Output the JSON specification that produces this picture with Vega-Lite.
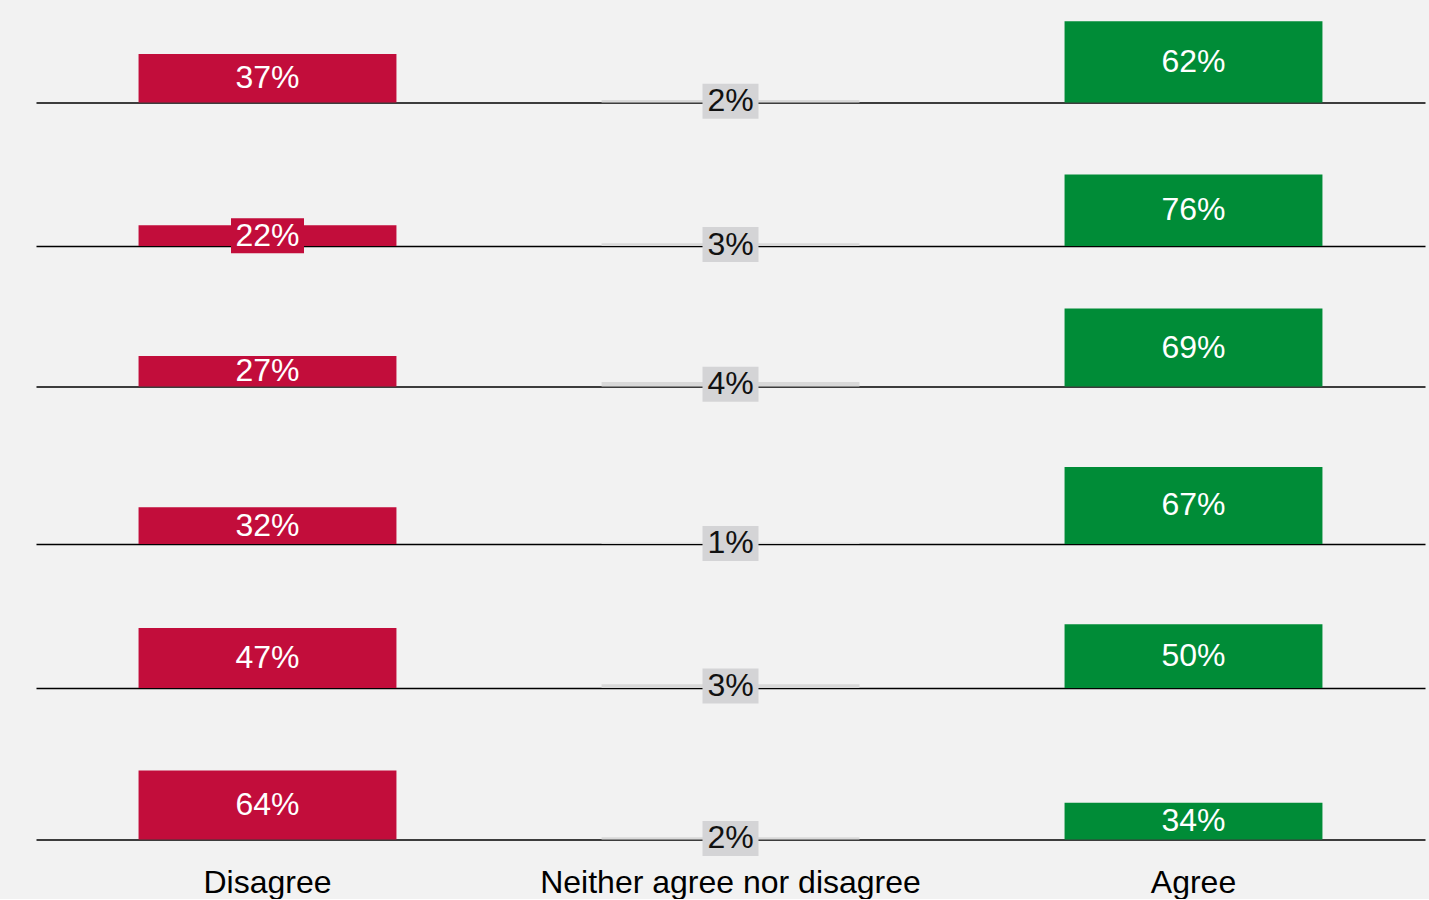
{
  "$schema": "https://vega.github.io/schema/vega-lite/v6.json",
  "background": "#f2f2f2",
  "padding": {"left": 36, "top": 0, "right": 4, "bottom": 0},
  "bounds": "flush",
  "spacing": 0,
  "data": {
    "values": [
      {"row": 1, "answer": "Disagree", "pct": 0.37},
      {"row": 1, "answer": "Neither agree nor disagree", "pct": 0.02},
      {"row": 1, "answer": "Agree", "pct": 0.62},
      {"row": 2, "answer": "Disagree", "pct": 0.22},
      {"row": 2, "answer": "Neither agree nor disagree", "pct": 0.03},
      {"row": 2, "answer": "Agree", "pct": 0.76},
      {"row": 3, "answer": "Disagree", "pct": 0.27},
      {"row": 3, "answer": "Neither agree nor disagree", "pct": 0.04},
      {"row": 3, "answer": "Agree", "pct": 0.69},
      {"row": 4, "answer": "Disagree", "pct": 0.32},
      {"row": 4, "answer": "Neither agree nor disagree", "pct": 0.01},
      {"row": 4, "answer": "Agree", "pct": 0.67},
      {"row": 5, "answer": "Disagree", "pct": 0.47},
      {"row": 5, "answer": "Neither agree nor disagree", "pct": 0.03},
      {"row": 5, "answer": "Agree", "pct": 0.50},
      {"row": 6, "answer": "Disagree", "pct": 0.64},
      {"row": 6, "answer": "Neither agree nor disagree", "pct": 0.02},
      {"row": 6, "answer": "Agree", "pct": 0.34}
    ]
  },
  "config": {
    "view": {"stroke": null},
    "font": "Liberation Sans",
    "axisX": {"labels": false, "ticks": false, "tickSize": 0, "domain": true, "domainColor": "#000000", "domainWidth": 1.6, "grid": false, "title": null, "labelAngle": 0, "labelFontSize": 32, "labelColor": "#000000", "labelFont": "Liberation Sans", "labelPadding": 28, "labelLimit": 0}
  },
  "vconcat": [
    {
      "width": 1389, "height": 102.5,
      "transform": [{"filter": "datum.row == 1"}],
      "encoding": {"x": {"field": "answer", "type": "nominal", "sort": ["Disagree", "Neither agree nor disagree", "Agree"], "scale": {"paddingInner": 0.443, "paddingOuter": 0.2215}}},
      "layer": [
        {"mark": {"type": "bar"}, "encoding": {"y": {"field": "pct", "type": "quantitative", "scale": {"domain": [0, 0.781], "nice": false}, "axis": null}, "color": {"field": "answer", "type": "nominal", "scale": {"domain": ["Disagree", "Neither agree nor disagree", "Agree"], "range": ["#C20D3B", "#D9D9D9", "#008C37"]}, "legend": null}}},
        {"transform": [{"filter": "datum.answer == 'Neither agree nor disagree' || datum.pct < 0.25"}], "mark": {"type": "tick", "thickness": 35, "opacity": 1}, "encoding": {"y": {"field": "pct", "type": "quantitative", "scale": {"domain": [0, 1.562], "nice": false}, "axis": null}, "color": {"field": "answer", "type": "nominal", "scale": {"domain": ["Disagree", "Neither agree nor disagree", "Agree"], "range": ["#C20D3B", "#D4D4D6", "#008C37"]}, "legend": null}, "size": {"field": "answer", "type": "nominal", "scale": {"type": "ordinal", "domain": ["Disagree", "Neither agree nor disagree", "Agree"], "range": [73, 56, 73]}, "legend": null}}},
        {"mark": {"type": "text", "fontSize": 32, "baseline": "middle", "align": "center"}, "encoding": {"y": {"field": "pct", "type": "quantitative", "scale": {"domain": [0, 1.562], "nice": false}, "axis": null}, "text": {"field": "pct", "type": "quantitative", "format": ".0%"}, "color": {"field": "answer", "type": "nominal", "scale": {"domain": ["Disagree", "Neither agree nor disagree", "Agree"], "range": ["#FFFFFF", "#111111", "#FFFFFF"]}, "legend": null}}}
      ],
      "resolve": {"scale": {"y": "independent", "color": "independent", "size": "independent"}}
    },
    {
      "width": 1389, "height": 143,
      "transform": [{"filter": "datum.row == 2"}],
      "encoding": {"x": {"field": "answer", "type": "nominal", "sort": ["Disagree", "Neither agree nor disagree", "Agree"], "scale": {"paddingInner": 0.443, "paddingOuter": 0.2215}}},
      "layer": [
        {"mark": {"type": "bar"}, "encoding": {"y": {"field": "pct", "type": "quantitative", "scale": {"domain": [0, 1.521], "nice": false}, "axis": null}, "color": {"field": "answer", "type": "nominal", "scale": {"domain": ["Disagree", "Neither agree nor disagree", "Agree"], "range": ["#C20D3B", "#D9D9D9", "#008C37"]}, "legend": null}}},
        {"transform": [{"filter": "datum.answer == 'Neither agree nor disagree' || datum.pct < 0.25"}], "mark": {"type": "tick", "thickness": 35, "opacity": 1}, "encoding": {"y": {"field": "pct", "type": "quantitative", "scale": {"domain": [0, 3.042], "nice": false}, "axis": null}, "color": {"field": "answer", "type": "nominal", "scale": {"domain": ["Disagree", "Neither agree nor disagree", "Agree"], "range": ["#C20D3B", "#D4D4D6", "#008C37"]}, "legend": null}, "size": {"field": "answer", "type": "nominal", "scale": {"type": "ordinal", "domain": ["Disagree", "Neither agree nor disagree", "Agree"], "range": [73, 56, 73]}, "legend": null}}},
        {"mark": {"type": "text", "fontSize": 32, "baseline": "middle", "align": "center"}, "encoding": {"y": {"field": "pct", "type": "quantitative", "scale": {"domain": [0, 3.042], "nice": false}, "axis": null}, "text": {"field": "pct", "type": "quantitative", "format": ".0%"}, "color": {"field": "answer", "type": "nominal", "scale": {"domain": ["Disagree", "Neither agree nor disagree", "Agree"], "range": ["#FFFFFF", "#111111", "#FFFFFF"]}, "legend": null}}}
      ],
      "resolve": {"scale": {"y": "independent", "color": "independent", "size": "independent"}}
    },
    {
      "width": 1389, "height": 140.5,
      "transform": [{"filter": "datum.row == 3"}],
      "encoding": {"x": {"field": "answer", "type": "nominal", "sort": ["Disagree", "Neither agree nor disagree", "Agree"], "scale": {"paddingInner": 0.443, "paddingOuter": 0.2215}}},
      "layer": [
        {"mark": {"type": "bar"}, "encoding": {"y": {"field": "pct", "type": "quantitative", "scale": {"domain": [0, 1.243], "nice": false}, "axis": null}, "color": {"field": "answer", "type": "nominal", "scale": {"domain": ["Disagree", "Neither agree nor disagree", "Agree"], "range": ["#C20D3B", "#D9D9D9", "#008C37"]}, "legend": null}}},
        {"transform": [{"filter": "datum.answer == 'Neither agree nor disagree' || datum.pct < 0.25"}], "mark": {"type": "tick", "thickness": 35, "opacity": 1}, "encoding": {"y": {"field": "pct", "type": "quantitative", "scale": {"domain": [0, 2.486], "nice": false}, "axis": null}, "color": {"field": "answer", "type": "nominal", "scale": {"domain": ["Disagree", "Neither agree nor disagree", "Agree"], "range": ["#C20D3B", "#D4D4D6", "#008C37"]}, "legend": null}, "size": {"field": "answer", "type": "nominal", "scale": {"type": "ordinal", "domain": ["Disagree", "Neither agree nor disagree", "Agree"], "range": [73, 56, 73]}, "legend": null}}},
        {"mark": {"type": "text", "fontSize": 32, "baseline": "middle", "align": "center"}, "encoding": {"y": {"field": "pct", "type": "quantitative", "scale": {"domain": [0, 2.486], "nice": false}, "axis": null}, "text": {"field": "pct", "type": "quantitative", "format": ".0%"}, "color": {"field": "answer", "type": "nominal", "scale": {"domain": ["Disagree", "Neither agree nor disagree", "Agree"], "range": ["#FFFFFF", "#111111", "#FFFFFF"]}, "legend": null}}}
      ],
      "resolve": {"scale": {"y": "independent", "color": "independent", "size": "independent"}}
    },
    {
      "width": 1389, "height": 157,
      "transform": [{"filter": "datum.row == 4"}],
      "encoding": {"x": {"field": "answer", "type": "nominal", "sort": ["Disagree", "Neither agree nor disagree", "Agree"], "scale": {"paddingInner": 0.443, "paddingOuter": 0.2215}}},
      "layer": [
        {"mark": {"type": "bar"}, "encoding": {"y": {"field": "pct", "type": "quantitative", "scale": {"domain": [0, 1.365], "nice": false}, "axis": null}, "color": {"field": "answer", "type": "nominal", "scale": {"domain": ["Disagree", "Neither agree nor disagree", "Agree"], "range": ["#C20D3B", "#D9D9D9", "#008C37"]}, "legend": null}}},
        {"transform": [{"filter": "datum.answer == 'Neither agree nor disagree' || datum.pct < 0.25"}], "mark": {"type": "tick", "thickness": 35, "opacity": 1}, "encoding": {"y": {"field": "pct", "type": "quantitative", "scale": {"domain": [0, 2.730], "nice": false}, "axis": null}, "color": {"field": "answer", "type": "nominal", "scale": {"domain": ["Disagree", "Neither agree nor disagree", "Agree"], "range": ["#C20D3B", "#D4D4D6", "#008C37"]}, "legend": null}, "size": {"field": "answer", "type": "nominal", "scale": {"type": "ordinal", "domain": ["Disagree", "Neither agree nor disagree", "Agree"], "range": [73, 56, 73]}, "legend": null}}},
        {"mark": {"type": "text", "fontSize": 32, "baseline": "middle", "align": "center"}, "encoding": {"y": {"field": "pct", "type": "quantitative", "scale": {"domain": [0, 2.730], "nice": false}, "axis": null}, "text": {"field": "pct", "type": "quantitative", "format": ".0%"}, "color": {"field": "answer", "type": "nominal", "scale": {"domain": ["Disagree", "Neither agree nor disagree", "Agree"], "range": ["#FFFFFF", "#111111", "#FFFFFF"]}, "legend": null}}}
      ],
      "resolve": {"scale": {"y": "independent", "color": "independent", "size": "independent"}}
    },
    {
      "width": 1389, "height": 144,
      "transform": [{"filter": "datum.row == 5"}],
      "encoding": {"x": {"field": "answer", "type": "nominal", "sort": ["Disagree", "Neither agree nor disagree", "Agree"], "scale": {"paddingInner": 0.443, "paddingOuter": 0.2215}}},
      "layer": [
        {"mark": {"type": "bar"}, "encoding": {"y": {"field": "pct", "type": "quantitative", "scale": {"domain": [0, 1.129], "nice": false}, "axis": null}, "color": {"field": "answer", "type": "nominal", "scale": {"domain": ["Disagree", "Neither agree nor disagree", "Agree"], "range": ["#C20D3B", "#D9D9D9", "#008C37"]}, "legend": null}}},
        {"transform": [{"filter": "datum.answer == 'Neither agree nor disagree' || datum.pct < 0.25"}], "mark": {"type": "tick", "thickness": 35, "opacity": 1}, "encoding": {"y": {"field": "pct", "type": "quantitative", "scale": {"domain": [0, 2.258], "nice": false}, "axis": null}, "color": {"field": "answer", "type": "nominal", "scale": {"domain": ["Disagree", "Neither agree nor disagree", "Agree"], "range": ["#C20D3B", "#D4D4D6", "#008C37"]}, "legend": null}, "size": {"field": "answer", "type": "nominal", "scale": {"type": "ordinal", "domain": ["Disagree", "Neither agree nor disagree", "Agree"], "range": [73, 56, 73]}, "legend": null}}},
        {"mark": {"type": "text", "fontSize": 32, "baseline": "middle", "align": "center"}, "encoding": {"y": {"field": "pct", "type": "quantitative", "scale": {"domain": [0, 2.258], "nice": false}, "axis": null}, "text": {"field": "pct", "type": "quantitative", "format": ".0%"}, "color": {"field": "answer", "type": "nominal", "scale": {"domain": ["Disagree", "Neither agree nor disagree", "Agree"], "range": ["#FFFFFF", "#111111", "#FFFFFF"]}, "legend": null}}}
      ],
      "resolve": {"scale": {"y": "independent", "color": "independent", "size": "independent"}}
    },
    {
      "width": 1389, "height": 151.5,
      "transform": [{"filter": "datum.row == 6"}],
      "encoding": {"x": {"field": "answer", "type": "nominal", "sort": ["Disagree", "Neither agree nor disagree", "Agree"], "scale": {"paddingInner": 0.443, "paddingOuter": 0.2215}, "axis": {"labels": true}}},
      "layer": [
        {"mark": {"type": "bar"}, "encoding": {"y": {"field": "pct", "type": "quantitative", "scale": {"domain": [0, 1.403], "nice": false}, "axis": null}, "color": {"field": "answer", "type": "nominal", "scale": {"domain": ["Disagree", "Neither agree nor disagree", "Agree"], "range": ["#C20D3B", "#D9D9D9", "#008C37"]}, "legend": null}}},
        {"transform": [{"filter": "datum.answer == 'Neither agree nor disagree' || datum.pct < 0.25"}], "mark": {"type": "tick", "thickness": 35, "opacity": 1}, "encoding": {"y": {"field": "pct", "type": "quantitative", "scale": {"domain": [0, 2.806], "nice": false}, "axis": null}, "color": {"field": "answer", "type": "nominal", "scale": {"domain": ["Disagree", "Neither agree nor disagree", "Agree"], "range": ["#C20D3B", "#D4D4D6", "#008C37"]}, "legend": null}, "size": {"field": "answer", "type": "nominal", "scale": {"type": "ordinal", "domain": ["Disagree", "Neither agree nor disagree", "Agree"], "range": [73, 56, 73]}, "legend": null}}},
        {"mark": {"type": "text", "fontSize": 32, "baseline": "middle", "align": "center"}, "encoding": {"y": {"field": "pct", "type": "quantitative", "scale": {"domain": [0, 2.806], "nice": false}, "axis": null}, "text": {"field": "pct", "type": "quantitative", "format": ".0%"}, "color": {"field": "answer", "type": "nominal", "scale": {"domain": ["Disagree", "Neither agree nor disagree", "Agree"], "range": ["#FFFFFF", "#111111", "#FFFFFF"]}, "legend": null}}}
      ],
      "resolve": {"scale": {"y": "independent", "color": "independent", "size": "independent"}}
    }
  ]
}
